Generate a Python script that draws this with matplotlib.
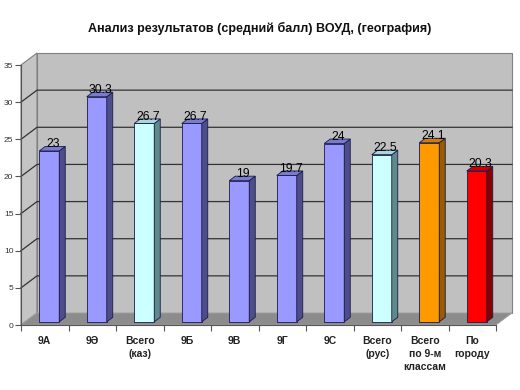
import matplotlib
matplotlib.use("Agg")
import matplotlib.pyplot as plt
from matplotlib.patches import Polygon

plt.rcParams['font.family'] = ['Liberation Sans', 'DejaVu Sans']

categories = ["9А", "9Ә", "Всего\n(каз)", "9Б", "9В", "9Г", "9С", "Всего\n(рус)", "Всего\nпо 9-м\nклассам", "По\nгороду"]
values = [23, 30.3, 26.7, 26.7, 19, 19.7, 24, 22.5, 24.1, 20.3]
value_labels = ["23", "30.3", "26.7", "26.7", "19", "19.7", "24", "22.5", "24.1", "20.3"]
front_colors = ["#9999ff", "#9999ff", "#ccffff", "#9999ff", "#9999ff", "#9999ff", "#9999ff", "#ccffff", "#ff9900", "#ff0000"]
side_colors = ["#4d4d8a", "#4d4d8a", "#5f8a8a", "#4d4d8a", "#4d4d8a", "#4d4d8a", "#4d4d8a", "#5f8a8a", "#995c00", "#8a0000"]
top_colors = ["#7a7ad0", "#7a7ad0", "#a8d8d8", "#7a7ad0", "#7a7ad0", "#7a7ad0", "#7a7ad0", "#a8d8d8", "#d07d00", "#d00000"]
yticks = [0, 5, 10, 15, 20, 25, 30, 35]
title = "Анализ результатов (средний балл) ВОУД, (география)"

W, H = 520, 390
fig = plt.figure(figsize=(W / 100, H / 100), dpi=100)
fig.patch.set_facecolor("white")
x0, x1, y0, y1 = 21, 496, 325, 65
ax = fig.add_axes([x0 / W, 1 - y0 / H, (x1 - x0) / W, (y0 - y1) / H])
n = len(values)
ax.set_xlim(0, n)
ax.set_ylim(0, 35)
ax.set_facecolor("none")

pxx = (x1 - x0) / n
pxy = (y0 - y1) / 35.0
DX, DY = 16 / pxx, 12 / pxy           # wall depth
ox, oy = 4.5 / pxx, 3.2 / pxy          # bar front offset
bw = 20 / pxx                          # bar width
ddx, ddy = 6 / pxx, 4.5 / pxy          # bar depth

wall_c = "#c0c0c0"
edge_c = "#808080"
# left wall
ax.add_patch(Polygon([(0, 0), (0, 35), (DX, 35 + DY), (DX, DY)], closed=True,
                     facecolor="#c4c4c4", edgecolor=edge_c, lw=0.8, clip_on=False, zorder=0))
# back wall
ax.add_patch(Polygon([(DX, DY), (DX, 35 + DY), (n + DX, 35 + DY), (n + DX, DY)], closed=True,
                     facecolor=wall_c, edgecolor=edge_c, lw=0.8, clip_on=False, zorder=0))
# floor
ax.add_patch(Polygon([(0, 0), (n, 0), (n + DX, DY), (DX, DY)], closed=True,
                     facecolor="#8c8c8c", edgecolor="#a0a0a0", lw=0.6, clip_on=False, zorder=0.5))
# gridlines
for v in yticks[1:-1]:
    ax.plot([0, DX, n + DX], [v, v + DY, v + DY], color="#333333", lw=0.9,
            clip_on=False, zorder=0.3)

# bars
for i, (v, fc, sc, tc) in enumerate(zip(values, front_colors, side_colors, top_colors)):
    xl = i + 0.5 - bw / 2 + ox
    ax.bar(xl, v, width=bw, bottom=oy, align="edge", color=fc, edgecolor="#1a1a4d",
           lw=0.6, zorder=2 + i * 0.01)
    top = oy + v
    ax.add_patch(Polygon([(xl + bw, oy), (xl + bw + ddx, oy + ddy), (xl + bw + ddx, top + ddy), (xl + bw, top)],
                         closed=True, facecolor=sc, edgecolor="#1a1a4d", lw=0.6, zorder=2 + i * 0.01, clip_on=False))
    ax.add_patch(Polygon([(xl, top), (xl + bw, top), (xl + bw + ddx, top + ddy), (xl + ddx, top + ddy)],
                         closed=True, facecolor=tc, edgecolor="#1a1a4d", lw=0.6, zorder=2 + i * 0.01, clip_on=False))
    ax.text(xl + (bw + ddx) / 2 + 0.02, top + ddy * 0.15, value_labels[i], ha="center", va="bottom",
            fontsize=8.7, color="black", zorder=5, clip_on=False)

# axes
for s in ["top", "right"]:
    ax.spines[s].set_visible(False)
ax.spines["left"].set_color("#555555")
ax.spines["bottom"].set_color("#555555")
ax.spines["left"].set_linewidth(0.8)
ax.spines["bottom"].set_linewidth(0.8)
ax.spines["left"].set_zorder(1)
ax.spines["bottom"].set_zorder(1)
ax.set_yticks(yticks)
ax.set_yticklabels([str(t) for t in yticks], fontsize=6, color="#333333")
ax.tick_params(axis="y", length=4, width=0.8, color="#555555", pad=1.5)
ax.set_xticks(range(n + 1))
ax.set_xticklabels([])
ax.tick_params(axis="x", which="major", length=4, width=0.8, color="#555555")
ax.set_xticks([i + 0.5 for i in range(n)], minor=True)
ax.set_xticklabels(categories, minor=True, fontsize=7.5, fontweight="bold", color="#222222",
                   linespacing=1.35)
ax.tick_params(axis="x", which="minor", length=0, pad=8)

fig.text(0.5, 1 - 28 / H, title, ha="center", va="center", fontsize=9, fontweight="bold", color="#111111")

fig.savefig("out.png", dpi=100, facecolor="white")
